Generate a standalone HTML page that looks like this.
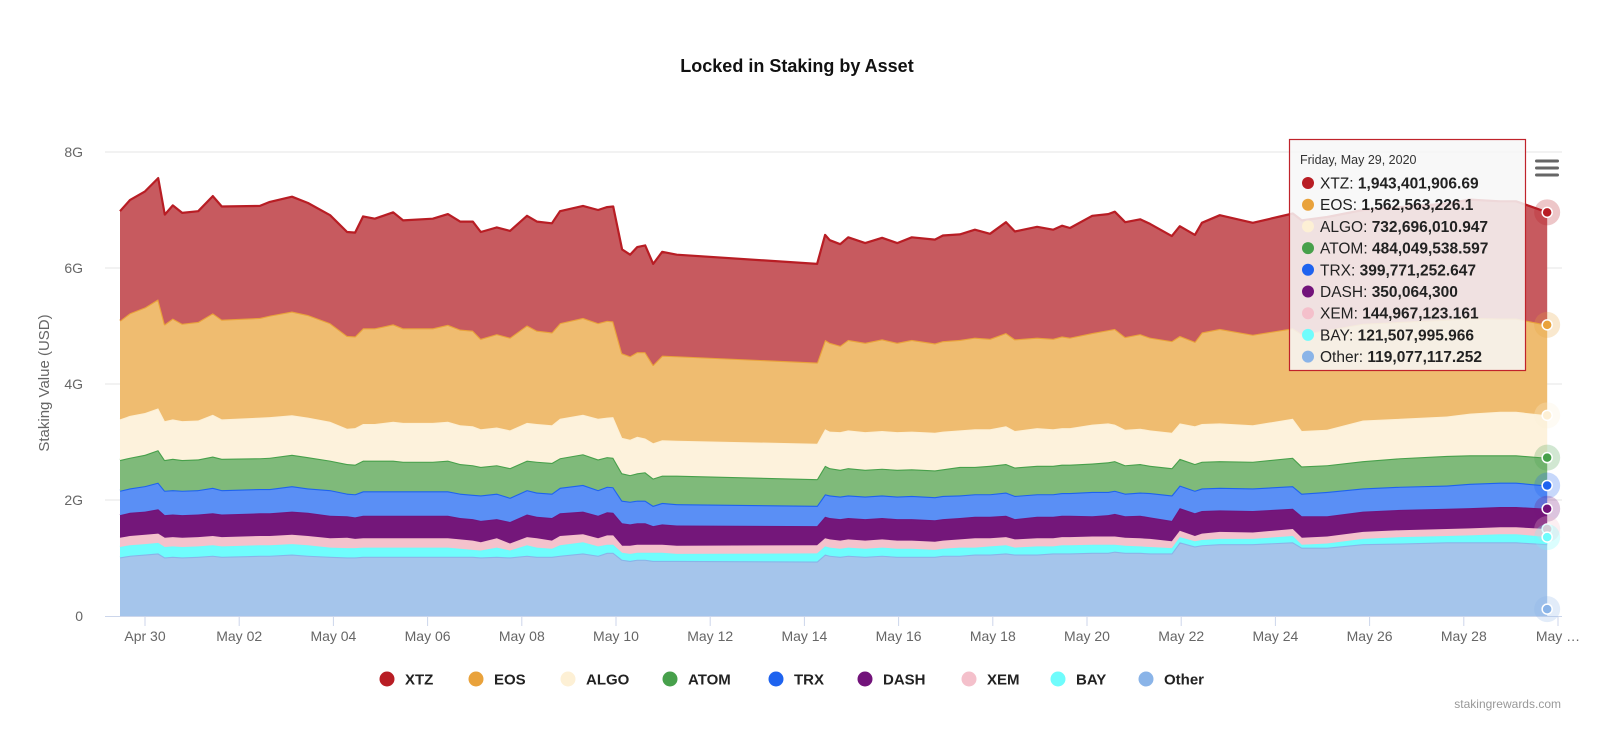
<!DOCTYPE html>
<html><head><meta charset="utf-8"><title>Locked in Staking by Asset</title>
<style>
html,body{margin:0;padding:0;background:#fff;}
svg{display:block;font-family:"Liberation Sans",Arial,sans-serif;}
</style></head>
<body>
<svg id="chart" width="1600" height="755" viewBox="0 0 1600 755">
  <rect width="1600" height="755" fill="#fff"/>
  <text x="797" y="72" text-anchor="middle" font-size="18" font-weight="bold" fill="#111">Locked in Staking by Asset</text>
  <g id="grid"></g>
  <g id="yaxis"></g>
  <text transform="translate(49,383) rotate(-90)" text-anchor="middle" font-size="15" fill="#666">Staking Value (USD)</text>
  <g id="areas"></g>
  <g id="xaxis"></g>
  <g id="markers"></g>
  <g id="legend"></g>
  <text x="1561" y="708" text-anchor="end" font-size="12" fill="#999">stakingrewards.com</text>
  <g>
    <rect x="1533" y="157" width="28" height="22" fill="transparent"/>
    <rect x="1535" y="159.5" width="24" height="3" rx="1.5" fill="#666"/>
    <rect x="1535" y="166.5" width="24" height="3" rx="1.5" fill="#666"/>
    <rect x="1535" y="173.5" width="24" height="3" rx="1.5" fill="#666"/>
  </g>
  <g id="tooltip"></g>
</svg>
<script>
const NS = "http://www.w3.org/2000/svg";
// ---- data ----
const seriesNames = ["XTZ","EOS","ALGO","ATOM","TRX","DASH","XEM","BAY","Other"];
const days = [-0.53,-0.32,0,0.28,0.42,0.59,0.79,1.13,1.44,1.63,2.44,2.65,3.12,3.46,3.93,4.29,4.46,4.63,4.88,5.27,5.48,6.11,6.43,6.69,6.96,7.13,7.47,7.75,8.11,8.32,8.64,8.81,9.30,9.62,9.81,9.94,10.13,10.30,10.45,10.62,10.79,10.98,11.29,14.27,14.44,14.54,14.76,14.93,15.29,15.65,15.97,16.28,16.77,16.94,17.30,17.62,17.94,18.28,18.47,18.94,19.28,19.47,19.64,20.11,20.45,20.59,20.81,21.13,21.34,21.80,21.97,22.29,22.44,22.82,23.52,24.37,24.56,25.10,25.86,26.65,27.64,28.13,28.77,29.11,29.77];
const xtz = [1.89,1.95,2.00,2.09,1.89,1.95,1.91,1.91,2.02,1.95,1.93,1.96,1.98,1.93,1.86,1.79,1.79,1.93,1.89,1.93,1.86,1.89,1.91,1.86,1.88,1.84,1.84,1.84,1.89,1.88,1.88,1.93,1.93,1.95,1.96,1.98,1.79,1.75,1.81,1.84,1.74,1.79,1.75,1.70,1.81,1.77,1.75,1.77,1.72,1.75,1.72,1.77,1.79,1.82,1.82,1.86,1.81,1.91,1.86,1.91,1.88,1.91,1.89,2.02,2.00,2.02,1.98,1.98,1.96,1.81,1.89,1.84,1.89,1.96,1.93,1.98,1.96,1.95,1.96,1.98,2.00,2.04,2.02,2.02,1.94];
const eos = [1.70,1.77,1.82,1.88,1.67,1.74,1.68,1.70,1.75,1.72,1.72,1.75,1.79,1.77,1.70,1.60,1.58,1.65,1.65,1.68,1.63,1.63,1.67,1.65,1.65,1.56,1.61,1.60,1.68,1.61,1.60,1.65,1.67,1.65,1.67,1.65,1.46,1.44,1.46,1.49,1.35,1.46,1.46,1.40,1.54,1.53,1.49,1.56,1.54,1.58,1.54,1.58,1.54,1.56,1.56,1.58,1.56,1.61,1.58,1.56,1.56,1.58,1.56,1.58,1.61,1.65,1.60,1.63,1.60,1.58,1.51,1.46,1.58,1.63,1.56,1.56,1.67,1.72,1.67,1.67,1.67,1.65,1.61,1.61,1.56];
const algo = [0.70,0.72,0.72,0.72,0.67,0.68,0.67,0.67,0.72,0.68,0.70,0.70,0.68,0.68,0.67,0.61,0.63,0.63,0.63,0.67,0.67,0.67,0.67,0.67,0.67,0.65,0.65,0.65,0.65,0.65,0.65,0.68,0.68,0.70,0.68,0.70,0.61,0.61,0.63,0.58,0.61,0.61,0.60,0.61,0.63,0.63,0.65,0.65,0.65,0.65,0.65,0.65,0.65,0.65,0.63,0.65,0.63,0.65,0.63,0.65,0.63,0.63,0.63,0.67,0.67,0.63,0.61,0.61,0.61,0.61,0.61,0.65,0.65,0.65,0.63,0.67,0.61,0.61,0.70,0.68,0.68,0.72,0.75,0.75,0.73];
const atom = [0.53,0.53,0.54,0.56,0.53,0.54,0.53,0.53,0.54,0.54,0.53,0.54,0.54,0.54,0.51,0.51,0.51,0.53,0.53,0.53,0.51,0.51,0.53,0.51,0.51,0.49,0.49,0.51,0.51,0.53,0.53,0.51,0.53,0.53,0.51,0.51,0.47,0.46,0.47,0.49,0.47,0.47,0.49,0.46,0.49,0.47,0.46,0.47,0.46,0.46,0.46,0.46,0.46,0.46,0.49,0.47,0.49,0.49,0.49,0.49,0.49,0.49,0.49,0.49,0.51,0.51,0.49,0.49,0.47,0.47,0.46,0.46,0.46,0.46,0.46,0.49,0.47,0.46,0.47,0.49,0.51,0.49,0.47,0.47,0.48];
const trx = [0.42,0.42,0.44,0.46,0.42,0.42,0.42,0.42,0.44,0.42,0.42,0.42,0.44,0.42,0.44,0.39,0.40,0.42,0.42,0.42,0.42,0.42,0.42,0.42,0.42,0.44,0.44,0.42,0.42,0.42,0.42,0.44,0.46,0.44,0.44,0.44,0.39,0.39,0.39,0.39,0.35,0.37,0.37,0.35,0.39,0.39,0.39,0.39,0.39,0.39,0.39,0.40,0.40,0.40,0.39,0.39,0.39,0.40,0.40,0.39,0.39,0.39,0.39,0.42,0.40,0.40,0.39,0.40,0.42,0.44,0.39,0.39,0.39,0.39,0.39,0.39,0.39,0.42,0.40,0.40,0.40,0.42,0.42,0.42,0.40];
const dash = [0.39,0.40,0.40,0.42,0.39,0.39,0.39,0.39,0.39,0.39,0.39,0.39,0.40,0.40,0.39,0.37,0.37,0.39,0.39,0.39,0.39,0.39,0.39,0.37,0.37,0.37,0.33,0.37,0.39,0.37,0.39,0.39,0.39,0.39,0.40,0.39,0.39,0.37,0.37,0.37,0.32,0.35,0.35,0.33,0.37,0.37,0.37,0.37,0.37,0.37,0.37,0.37,0.37,0.37,0.37,0.37,0.37,0.37,0.35,0.37,0.37,0.37,0.37,0.35,0.37,0.39,0.37,0.39,0.37,0.35,0.39,0.39,0.39,0.37,0.37,0.35,0.37,0.35,0.35,0.35,0.35,0.35,0.35,0.35,0.35];
const xem = [0.16,0.16,0.16,0.16,0.16,0.16,0.16,0.16,0.16,0.16,0.16,0.16,0.16,0.16,0.16,0.18,0.16,0.16,0.16,0.16,0.16,0.16,0.16,0.16,0.16,0.14,0.16,0.12,0.14,0.16,0.14,0.16,0.14,0.14,0.16,0.16,0.12,0.14,0.14,0.14,0.14,0.14,0.14,0.14,0.14,0.14,0.14,0.14,0.14,0.14,0.14,0.14,0.14,0.14,0.14,0.16,0.14,0.14,0.14,0.14,0.14,0.14,0.14,0.14,0.14,0.14,0.14,0.14,0.14,0.12,0.11,0.09,0.11,0.12,0.11,0.12,0.12,0.12,0.12,0.12,0.12,0.12,0.12,0.12,0.14];
const bay = [0.18,0.18,0.18,0.18,0.18,0.18,0.18,0.18,0.18,0.18,0.18,0.18,0.18,0.18,0.16,0.16,0.16,0.16,0.16,0.16,0.16,0.16,0.16,0.14,0.12,0.12,0.16,0.12,0.18,0.16,0.14,0.18,0.19,0.16,0.14,0.14,0.12,0.12,0.12,0.12,0.14,0.14,0.12,0.14,0.14,0.14,0.14,0.14,0.14,0.14,0.14,0.14,0.12,0.12,0.14,0.12,0.14,0.14,0.12,0.14,0.12,0.14,0.14,0.14,0.14,0.12,0.12,0.11,0.11,0.09,0.09,0.09,0.09,0.09,0.09,0.11,0.05,0.07,0.09,0.11,0.11,0.12,0.14,0.14,0.12];
const other = [1.01,1.04,1.06,1.08,1.01,1.02,1.01,1.02,1.04,1.02,1.04,1.04,1.06,1.04,1.02,1.01,1.01,1.02,1.02,1.02,1.02,1.02,1.02,1.02,1.02,1.01,1.02,1.01,1.04,1.02,1.02,1.04,1.08,1.04,1.09,1.09,0.97,0.95,0.97,0.97,0.95,0.95,0.95,0.94,1.06,1.04,1.02,1.04,1.02,1.04,1.02,1.02,1.02,1.04,1.04,1.06,1.06,1.08,1.06,1.06,1.08,1.08,1.08,1.09,1.09,1.11,1.09,1.09,1.08,1.08,1.27,1.20,1.22,1.24,1.24,1.27,1.18,1.18,1.24,1.25,1.27,1.27,1.27,1.27,1.24];
const yTicks = [0,2,4,6,8];
const yTickLabels = ["0","2G","4G","6G","8G"];
const xTickDays = [0,2,4,6,8,10,12,14,16,18,20,22,24,26,28,30];
const xTickLabels = ["Apr 30","May 02","May 04","May 06","May 08","May 10","May 12","May 14","May 16","May 18","May 20","May 22","May 24","May 26","May 28","May \u2026"];
const tooltipDate = "Friday, May 29, 2020";
const tooltipValues = ["1,943,401,906.69","1,562,563,226.1","732,696,010.947","484,049,538.597","399,771,252.647","350,064,300","144,967,123.161","121,507,995.966","119,077,117.252"];
const otherTooltipG = 0.119;

// ---- styles ----
const lineColors = ["#b81d24","#e9a23b","#fdf0d5","#47a04b","#1e63ef","#72137a","#f4c0cb","#6ffcfc","#8ab4e8"];
const fillColors = ["#c75a5f","#efbc70","#fdf2dc","#7fba7a","#5a8ff5","#74177a","#f4c2cc","#6ffdfd","#a5c5eb"];
const legendX = [387,476,568,670,776,865,969,1058,1146];

const seriesData = [xtz,eos,algo,atom,trx,dash,xem,bay,other];
const X0 = 145, PXD = 47.1, Y0 = 616, PXG = 58, PL = 105, PR = 1562;
const xs = d => X0 + d * PXD;
const ys = v => Y0 - v * PXG;

function el(tag, attrs, parent){ const e = document.createElementNS(NS, tag); for (const k in attrs) e.setAttribute(k, attrs[k]); parent.appendChild(e); return e; }

// grid + y axis
const grid = document.getElementById('grid'), yax = document.getElementById('yaxis');
yTicks.forEach((t,i) => {
  if (t > 0) {
    const g = el('line', {x1:PL, x2:PR, y1:ys(t), y2:ys(t), stroke:'#e6e6e6', 'stroke-width':1}, grid);
    
    
  }
  const tx = el('text', {x:83, y:ys(t)+5, 'text-anchor':'end', 'font-size':14, fill:'#666'}, yax);
  tx.textContent = yTickLabels[i];
  
  
});

// stacked areas (bottom = last series)
const n = days.length;
const cum = [];
let base = new Array(n).fill(0);
for (let s = seriesData.length - 1; s >= 0; s--) {
  const top = base.map((b,i) => b + seriesData[s][i]);
  cum[s] = {low: base, high: top};
  base = top;
}
const areas = document.getElementById('areas');
for (let s = seriesData.length - 1; s >= 0; s--) {
  const {low, high} = cum[s];
  let d = '';
  for (let i = 0; i < n; i++) d += (i ? 'L' : 'M') + xs(days[i]).toFixed(1) + ',' + ys(high[i]).toFixed(1);
  for (let i = n - 1; i >= 0; i--) d += 'L' + xs(days[i]).toFixed(1) + ',' + ys(low[i]).toFixed(1);
  d += 'Z';
  const a = el('path', {d:d, fill:fillColors[s], stroke:'none'}, areas);
  
  
  let ld = '';
  for (let i = 0; i < n; i++) ld += (i ? 'L' : 'M') + xs(days[i]).toFixed(1) + ',' + ys(high[i]).toFixed(1);
  const l = el('path', {d:ld, fill:'none', stroke:lineColors[s], 'stroke-width':2.2, 'stroke-linejoin':'round'}, areas);
  
  
}

// x axis
const xax = document.getElementById('xaxis');
const axl = el('line', {x1:PL, x2:PR, y1:Y0+0.5, y2:Y0+0.5, stroke:'#ccd6eb', 'stroke-width':1}, xax);


xTickDays.forEach((d,i) => {
  const x = xs(d);
  const tk = el('line', {x1:x, x2:x, y1:Y0, y2:Y0+10, stroke:'#ccd6eb', 'stroke-width':1}, xax);
  
  
  const tx = el('text', {x:x, y:Y0+25, 'text-anchor':'middle', 'font-size':14, fill:'#666'}, xax);
  tx.textContent = xTickLabels[i];
  
  
});

// hover markers at last point
const mk = document.getElementById('markers');
const li = n - 1, lx = xs(days[li]);
for (let s = 0; s < seriesData.length; s++) {
  const v = (s === seriesData.length - 1) ? otherTooltipG : cum[s].high[li];
  const halo = el('circle', {cx:lx, cy:ys(v), r:13, fill:lineColors[s], 'fill-opacity':0.25}, mk);
  
  
  const m = el('circle', {cx:lx, cy:ys(v), r:5, fill:lineColors[s], stroke:'#fff', 'stroke-width':1.5}, mk);
  
  
}

// legend
const lg = document.getElementById('legend');
seriesNames.forEach((nm,i) => {
  const g = el('g', {}, lg);
  
  
  el('circle', {cx:legendX[i], cy:679, r:7.5, fill:lineColors[i]}, g);
  const t = el('text', {x:legendX[i]+18, y:684.5, 'font-size':15, 'font-weight':'bold', fill:'#222'}, g);
  t.textContent = nm;
});

// tooltip
const tt = document.getElementById('tooltip');
const box = el('rect', {x:1289.5, y:139.5, width:236, height:231, fill:'rgba(247,247,247,0.86)', stroke:'#c0232b', 'stroke-width':1.2}, tt);


const dt = el('text', {x:1300, y:164, 'font-size':12.5, fill:'#333'}, tt);
dt.textContent = tooltipDate;


seriesNames.forEach((nm,i) => {
  const cy = 183 + i * 21.7;
  const c = el('circle', {cx:1308, cy:cy, r:6, fill:lineColors[i]}, tt);
  
  
  const t = el('text', {x:1320, y:cy+5.5, 'font-size':15.5, fill:'#222'}, tt);
  
  
  const a = document.createElementNS(NS, 'tspan'); a.textContent = nm + ': '; t.appendChild(a);
  const b = document.createElementNS(NS, 'tspan'); b.setAttribute('font-weight', 'bold'); b.textContent = tooltipValues[i]; t.appendChild(b);
});
</script>
</body></html>
